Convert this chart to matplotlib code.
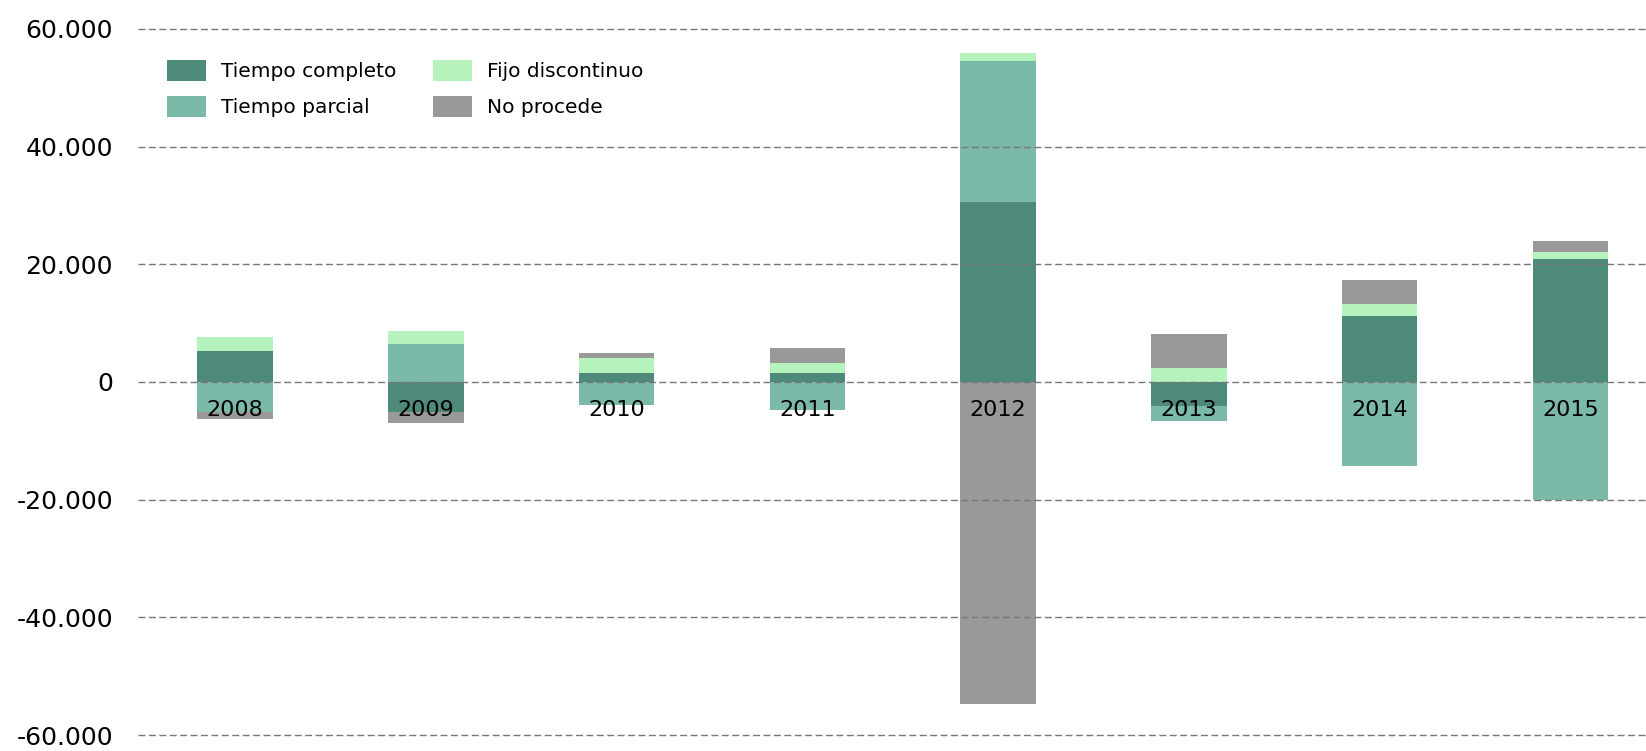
import numpy as np
import matplotlib
matplotlib.use("Agg")
import matplotlib.pyplot as plt
from matplotlib.patches import Patch
from matplotlib.ticker import FuncFormatter

years = ["2008", "2009", "2010", "2011", "2012", "2013", "2014", "2015"]
series_names = ["Tiempo completo", "Tiempo parcial", "Fijo discontinuo", "No procede"]
tiempo_completo = [5200, -5100, 1600, 1600, 30600, -4000, 11200, 20850]
tiempo_parcial = [-5100, 6400, -3900, -4700, 24000, -2600, -14300, -20100]
fijo_discontinuo = [2500, 2200, 2500, 1600, 1300, 2300, 2000, 1250]
no_procede = [-1200, -1900, 800, 2500, -54800, 5900, 4200, 1800]
y_ticks = [-60000, -40000, -20000, 0, 20000, 40000, 60000]

colors = ["#4e8a7a", "#7bbaa9", "#b5f2bc", "#999999"]

plt.rcParams["font.family"] = ["DejaVu Sans"]

fig = plt.figure(figsize=(16.46, 7.51), dpi=100)
ax = fig.add_axes([0.0838, 0.0213, 1 - 0.0838, 0.9614 - 0.0213])

x = np.arange(len(years))
pos_bottom = np.zeros(len(years))
neg_bottom = np.zeros(len(years))
for vals, col in zip([tiempo_completo, tiempo_parcial, fijo_discontinuo, no_procede], colors):
    v = np.array(vals, dtype=float)
    bottom = np.where(v >= 0, pos_bottom, neg_bottom)
    ax.bar(x, v, width=0.396, bottom=bottom, color=col, linewidth=0, zorder=2)
    pos_bottom += np.where(v >= 0, v, 0)
    neg_bottom += np.where(v < 0, v, 0)

for i, yr in enumerate(years):
    ax.annotate(yr, (i, 0), xytext=(0, -20.5), textcoords="offset points",
                ha="center", va="center", fontsize=16, color="black", zorder=4)

ax.set_xlim(-0.509, 7.396)
ax.set_ylim(-60000, 60000)
ax.set_yticks(y_ticks)
ax.yaxis.set_major_formatter(FuncFormatter(lambda v, p: f"{int(v):,}".replace(",", ".")))
ax.set_xticks([])
ax.tick_params(axis="y", length=0, pad=18, labelsize=18)
for s in ax.spines.values():
    s.set_visible(False)
ax.grid(axis="y", color="#777777", linewidth=1, linestyle=(0, (5, 2.5)), zorder=3)
ax.set_axisbelow(False)
for gl in ax.yaxis.get_gridlines():
    gl.set_clip_on(False)

handles = [Patch(facecolor=c, edgecolor="none") for c in colors]
fig.legend(handles, series_names, loc="upper left",
           bbox_to_anchor=(167 / 1646, 1 - 60 / 751), ncol=2, frameon=False,
           fontsize=14.5, handlelength=1.94, handleheight=1.19, handletextpad=0.72,
           columnspacing=1.84, labelspacing=0.75, borderpad=0, borderaxespad=0)

fig.savefig("out.png", dpi=100)
